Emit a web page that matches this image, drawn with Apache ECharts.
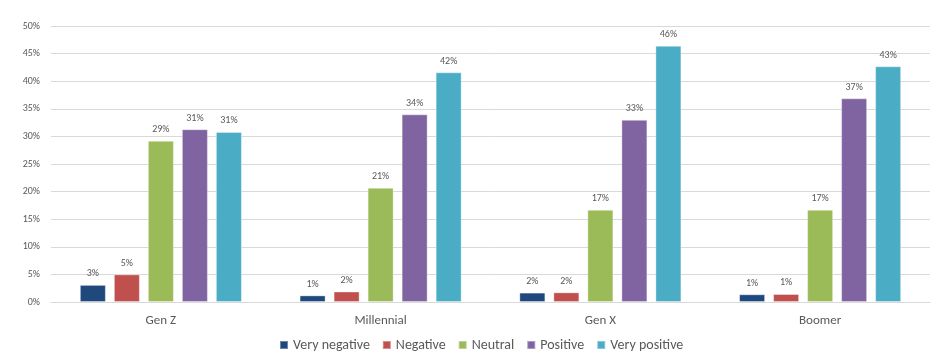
<!DOCTYPE html>
<html>
<head>
<meta charset="utf-8">
<script src="https://cdn.jsdelivr.net/npm/echarts@6/dist/echarts.min.js"></script>
<style>html,body{margin:0;padding:0;background:#fff;}#c{width:931px;height:363px;}</style>
</head>
<body>
<div id="c"></div>
<script>
var categories = ['Gen Z', 'Millennial', 'Gen X', 'Boomer'];
var seriesNames = ['Very negative', 'Negative', 'Neutral', 'Positive', 'Very positive'];
var veryNegative = [3.1, 1.2, 1.7, 1.4];
var negative = [5.0, 1.9, 1.75, 1.45];
var neutral = [29.2, 20.7, 16.7, 16.7];
var positive = [31.3, 34.0, 33.0, 36.9];
var veryPositive = [30.8, 41.6, 46.4, 42.7];
var yTicks = [0, 5, 10, 15, 20, 25, 30, 35, 40, 45, 50];
var colors = ['#1F497D', '#C0504D', '#9BBB59', '#8064A2', '#4BACC6'];
var allData = [veryNegative, negative, neutral, positive, veryPositive];

var font = 'Calibri, Carlito, Lato, "Liberation Sans", "DejaVu Sans", sans-serif';
var chart = echarts.init(document.getElementById('c'), null, {renderer: 'canvas'});
chart.setOption({
  animation: false,
  color: colors,
  grid: {left: 51, right: 1, top: 26, bottom: 61, containLabel: false},
  legend: {
    bottom: 6, left: 274,
    itemWidth: 8, itemHeight: 8, itemGap: 12,
    icon: 'rect',
    textStyle: {color: '#595959', fontSize: 14, fontFamily: font},
    data: seriesNames
  },
  xAxis: {
    type: 'category',
    data: categories,
    axisLine: {lineStyle: {color: '#D9D9D9', width: 1}},
    axisTick: {show: false},
    axisLabel: {color: '#595959', fontSize: 13, fontFamily: font, margin: 12}
  },
  yAxis: {
    type: 'value',
    min: yTicks[0], max: yTicks[yTicks.length - 1], interval: 5,
    axisLine: {show: false},
    axisTick: {show: false},
    splitLine: {lineStyle: {color: '#D9D9D9', width: 1}},
    axisLabel: {color: '#595959', fontSize: 10, fontFamily: font, margin: 11,
      formatter: function (v) { return v + '%'; }}
  },
  series: seriesNames.map(function (n, i) {
    return {
      name: n, type: 'bar', data: allData[i],
      barWidth: 26, barGap: '30.8%',
      itemStyle: {color: colors[i], borderColor: 'rgba(255,255,255,0.35)', borderWidth: 1},
      label: {show: true, position: 'top', distance: 6, color: '#595959', fontSize: 10, fontFamily: font,
        formatter: function (p) { return Math.round(p.value) + '%'; }}
    };
  })
});
</script>
</body>
</html>
